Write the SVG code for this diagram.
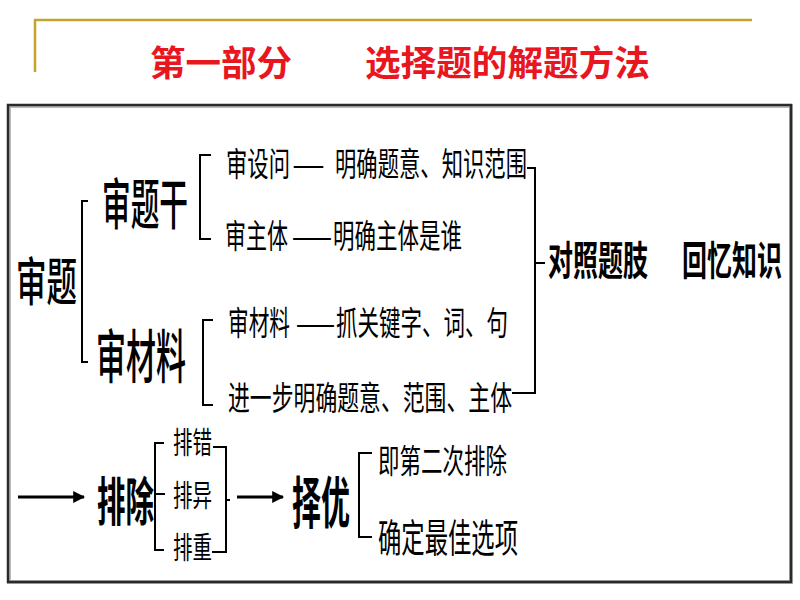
<svg xmlns="http://www.w3.org/2000/svg" width="800" height="600" viewBox="0 0 800 600">
<style>
text{font-family:"Noto Sans CJK SC","Noto Sans CJK JP",sans-serif;fill:#000}
.t{fill:#E8161E;font-weight:700;font-size:35px}
.s{font-size:21.5px}
.m{font-weight:500}
.b{font-weight:700}
.ln{fill:none;stroke:#000;stroke-width:2}
.ar{fill:none;stroke:#000;stroke-width:3}
</style>
<defs>
<marker id="ah" viewBox="0 0 10 10" refX="9" refY="5" markerWidth="4" markerHeight="4" markerUnits="strokeWidth" orient="auto">
<path d="M0,0 L10,5 L0,10 z" fill="#000"/>
</marker>
</defs>
<rect width="800" height="600" fill="#fff"/>
<g id="frame">
<path d="M35,72 V20 H752" fill="none" stroke="#C4A32E" stroke-width="2.5"/>
<rect x="9" y="106" width="782" height="476" fill="none" stroke="#bbb" stroke-width="4"/>
<rect x="8" y="105" width="783" height="477" fill="none" stroke="#2a2a2a" stroke-width="2.5"/>
</g>
<g id="title">
<text class="t" x="150" y="76" textLength="142" lengthAdjust="spacingAndGlyphs">第一部分</text>
<text class="t" x="365" y="76" textLength="285" lengthAdjust="spacingAndGlyphs">选择题的解题方法</text>
</g>
<g id="connectors">
<path class="ln" d="M88,201 H82 V362 H88"/>
<path class="ln" d="M211,155 H200 V239 H211"/>
<path class="ln" d="M213,320 H203 V405 H213"/>
<path class="ln" d="M527,168 H535 V393 H512 M535,263 H545"/>
<path class="ln" d="M164,443 H155 V550 H164 M155,494 H165"/>
<path class="ln" d="M213,447 H226 V552 H212 M226,500 H230"/>
<path class="ln" d="M372,453 H359 V537 H372"/>
<path class="ar" d="M18,497 H84" marker-end="url(#ah)"/>
<path class="ar" d="M237,497 H283" marker-end="url(#ah)"/>
</g>
<g id="n-shenti"><text class="m" transform="translate(16,301) scale(1,1.71)" font-size="30.5" textLength="61" lengthAdjust="spacingAndGlyphs">审题</text></g>
<g id="n-shentigan"><text class="m" transform="translate(102,224) scale(1,1.9)" font-size="28.7" textLength="86" lengthAdjust="spacingAndGlyphs">审题干</text></g>
<g id="n-shencailiao"><text class="m" transform="translate(96,378) scale(1,1.93)" font-size="30" textLength="90" lengthAdjust="spacingAndGlyphs">审材料</text></g>
<g id="n-shensheswen">
<text class="s" transform="translate(226,176) scale(1,1.55)" textLength="64" lengthAdjust="spacingAndGlyphs">审设问</text>
<text class="s" transform="translate(292,176) scale(1,1.55)" textLength="33" lengthAdjust="spacingAndGlyphs">—</text>
<text class="s" transform="translate(335,176) scale(1,1.55)" textLength="192" lengthAdjust="spacingAndGlyphs">明确题意、知识范围</text>
</g>
<g id="n-shenzhuti">
<text class="s" transform="translate(225,248) scale(1,1.55)" textLength="63" lengthAdjust="spacingAndGlyphs">审主体</text>
<text class="s" transform="translate(292,248) scale(1,1.55)" textLength="40" lengthAdjust="spacingAndGlyphs">——</text>
<text class="s" transform="translate(333,248) scale(1,1.55)" textLength="129" lengthAdjust="spacingAndGlyphs">明确主体是谁</text>
</g>
<g id="n-shencailiao2">
<text class="s" transform="translate(228,335) scale(1,1.55)" textLength="62" lengthAdjust="spacingAndGlyphs">审材料</text>
<text class="s" transform="translate(296,335) scale(1,1.55)" textLength="39" lengthAdjust="spacingAndGlyphs">——</text>
<text class="s" transform="translate(336,335) scale(1,1.55)" textLength="172" lengthAdjust="spacingAndGlyphs">抓关键字、词、句</text>
</g>
<g id="n-jinyibu"><text class="s" transform="translate(228,410) scale(1,1.55)" textLength="284" lengthAdjust="spacingAndGlyphs">进一步明确题意、范围、主体</text></g>
<g id="n-duizhao">
<text class="b" transform="translate(548,275) scale(1,1.6)" font-size="25" textLength="100" lengthAdjust="spacingAndGlyphs">对照题肢</text>
<text class="b" transform="translate(682,275) scale(1,1.6)" font-size="25" textLength="100" lengthAdjust="spacingAndGlyphs">回忆知识</text>
</g>
<g id="n-paichu"><text class="b" transform="translate(97,521) scale(1,1.83)" font-size="28.5" textLength="57" lengthAdjust="spacingAndGlyphs">排除</text></g>
<g id="n-paicuo"><text transform="translate(173,453) scale(1,1.54)" font-size="19.5" textLength="39" lengthAdjust="spacingAndGlyphs">排错</text></g>
<g id="n-paiyi"><text transform="translate(173,506) scale(1,1.54)" font-size="19.5" textLength="39" lengthAdjust="spacingAndGlyphs">排异</text></g>
<g id="n-paizhong"><text transform="translate(173,558) scale(1,1.54)" font-size="19.5" textLength="39" lengthAdjust="spacingAndGlyphs">排重</text></g>
<g id="n-zeyou"><text class="b" transform="translate(292,523) scale(1,1.92)" font-size="29" textLength="58" lengthAdjust="spacingAndGlyphs">择优</text></g>
<g id="n-dierci"><text class="s" transform="translate(378,473) scale(1,1.55)" textLength="129" lengthAdjust="spacingAndGlyphs">即第二次排除</text></g>
<g id="n-queding"><text transform="translate(378,552) scale(1,1.67)" font-size="23.3" textLength="140" lengthAdjust="spacingAndGlyphs">确定最佳选项</text></g>
</svg>
